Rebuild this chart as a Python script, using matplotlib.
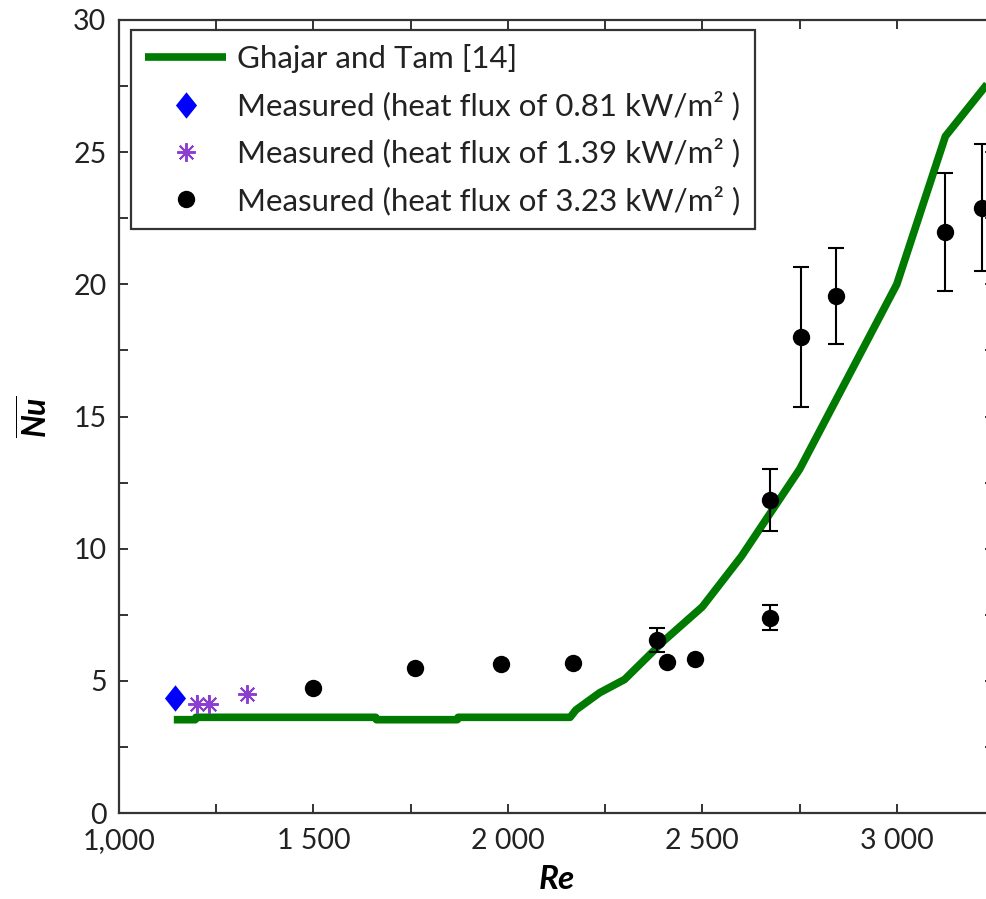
import matplotlib
matplotlib.use("Agg")
import matplotlib.pyplot as plt
from matplotlib.path import Path
from matplotlib.ticker import FixedLocator, FixedFormatter, MultipleLocator

plt.rcParams["font.family"] = ["Lato", "DejaVu Sans"]
plt.rcParams["mathtext.fontset"] = "custom"
plt.rcParams["mathtext.rm"] = "Lato"
plt.rcParams["mathtext.it"] = "Lato:italic"
plt.rcParams["mathtext.bf"] = "Lato:bold"
plt.rcParams["mathtext.bfit"] = "Lato:bold:italic"

# Ghajar and Tam correlation
corr_re = [1141, 1196, 1198, 1660, 1662, 1870, 1872, 2160, 2175, 2236, 2300,
           2400, 2500, 2600, 2750, 3000, 3125, 3250]
corr_nu = [3.53, 3.53, 3.62, 3.62, 3.53, 3.53, 3.62, 3.62, 3.9, 4.55, 5.05,
           6.5, 7.8, 9.7, 13.0, 20.0, 25.6, 27.9]

# Measured, heat flux 0.81 kW/m2
q1_re = [1144]
q1_nu = [4.35]

# Measured, heat flux 1.39 kW/m2
q2_re = [1200, 1231, 1329]
q2_nu = [4.12, 4.12, 4.50]
q2_err = [0.35, 0.35, 0.0]

# Measured, heat flux 3.23 kW/m2
q3_re = [1498, 1761, 1982, 2167, 2383, 2408, 2480, 2673, 2673, 2753, 2845, 3125, 3218]
q3_nu = [4.73, 5.49, 5.64, 5.68, 6.55, 5.71, 5.83, 7.38, 11.84, 18.0, 19.56, 21.98, 22.9]
q3_err = [0, 0, 0, 0, 0.45, 0, 0, 0.47, 1.17, 2.65, 1.8, 2.23, 2.4]

x_major = [1000, 1500, 2000, 2500, 3000]
x_labels = ["1,000", "1 500", "2 000", "2 500", "3 000"]

W, H = 987, 899
fig = plt.figure(figsize=(W / 100, H / 100), dpi=100)
ax = fig.add_axes([119 / W, 1 - 813 / H, (994 - 119) / W, (813 - 20) / H])

purple = "#8a3fd1"
# slightly narrow diamond marker
diamond = Path([(0, 1), (0.8, 0), (0, -1), (-0.8, 0), (0, 1)],
               [Path.MOVETO, Path.LINETO, Path.LINETO, Path.LINETO, Path.CLOSEPOLY])

ax.plot(corr_re, corr_nu, color="#007a00", lw=5.5, solid_capstyle="butt",
        label="Ghajar and Tam [14]", zorder=3)
ax.plot(q1_re, q1_nu, linestyle="none", marker=diamond, color="#0000ff", ms=19,
        markeredgewidth=0, label="Measured (heat flux of 0.81 kW/m² )", zorder=4)
ax.errorbar(q2_re, q2_nu, yerr=q2_err, fmt="none", ecolor=purple, elinewidth=1.5,
            capsize=0, zorder=4)
ax.plot(q2_re, q2_nu, linestyle="none", marker=(8, 2, 0), color=purple, ms=13.5,
        markeredgewidth=1.4, label="Measured (heat flux of 1.39 kW/m² )", zorder=5)
ax.errorbar(q3_re, q3_nu, yerr=q3_err, fmt="none", ecolor="black", elinewidth=1.5,
            capsize=5.5, capthick=1.5, zorder=4)
ax.plot(q3_re, q3_nu, linestyle="none", marker="o", color="black", ms=12.5,
        markeredgewidth=0, label="Measured (heat flux of 3.23 kW/m² )", zorder=5)

ax.set_xlim(1000, 3250)
ax.set_ylim(0, 30)

ax.xaxis.set_major_locator(FixedLocator(x_major))
ax.xaxis.set_major_formatter(FixedFormatter(x_labels))
ax.xaxis.set_minor_locator(MultipleLocator(250))
ax.yaxis.set_major_locator(MultipleLocator(5))
ax.yaxis.set_minor_locator(MultipleLocator(2.5))

spine_c = "#333333"
for s in ax.spines.values():
    s.set_linewidth(1.6)
    s.set_color(spine_c)

ax.tick_params(which="both", direction="in", top=True, right=True,
               length=6.5, width=1.4, color=spine_c, labelsize=20.5,
               labelcolor="#222222")
ax.tick_params(axis="y", pad=9)
ax.tick_params(axis="x", pad=11)

ax.set_xlabel("Re", fontsize=24, fontweight="bold", fontstyle="italic", labelpad=8)
ax.set_ylabel(r"$\overline{\mathbfit{Nu}}$", fontsize=23, labelpad=14)

leg = ax.legend(loc="upper left", bbox_to_anchor=((131 - 119) / 875, (813 - 30) / 793),
                borderaxespad=0, fontsize=22.5, frameon=True, fancybox=False,
                edgecolor="black", handlelength=2.6, handletextpad=0.35,
                labelspacing=0.57, borderpad=0.45, numpoints=1)
leg.get_frame().set_linewidth(1.6)
for t in leg.get_texts():
    t.set_color("#222222")

fig.savefig("out.png", dpi=100)
